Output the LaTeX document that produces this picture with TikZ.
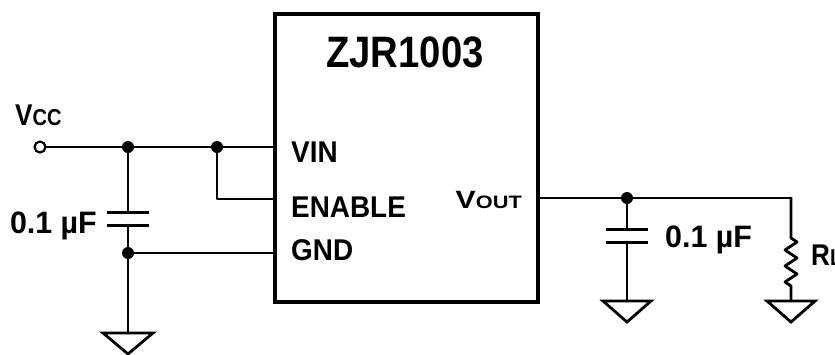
\documentclass[tikz,border=0pt]{standalone}
\usepackage{fontspec}
\setmainfont{Liberation Sans}[FakeStretch=0.87]
\newfontfamily\pinfont{Liberation Sans}[FakeStretch=0.93]
\newfontfamily\valfont{Liberation Sans}[FakeStretch=0.98]
\begin{document}
\begin{tikzpicture}[x=1pt,y=-1pt,
  wire/.style={line width=2.8pt,line cap=round,line join=round},
  lbl/.style={inner sep=0pt,font=\bfseries},
  dot/.style={circle,fill=black,inner sep=0pt,minimum size=12pt},
  gndsym/.style={line width=2.8pt,line join=miter}]
\useasboundingbox (0,0) rectangle (835,354);
% IC box
\draw[line width=4pt] (275,14) rectangle (538,302);
\node[lbl,anchor=base,font=\bfseries\fontsize{44}{44}\selectfont] (title) at (405,67) {ZJR1003};
\node[lbl,anchor=base west,font=\pinfont\bfseries\fontsize{30}{30}\selectfont] (vin) at (291,162) {VIN};
\node[lbl,anchor=base west,font=\pinfont\bfseries\fontsize{30}{30}\selectfont] (en) at (291,217) {ENABLE};
\node[lbl,anchor=base west,font=\pinfont\bfseries\fontsize{30}{30}\selectfont] (gndl) at (291,260) {GND};
\node[lbl,anchor=base east] (vout) at (522,208) {\scalebox{1.39}[1]{\fontsize{25}{25}\selectfont V\fontsize{18}{18}\selectfont OUT}};
% coordinates
\coordinate (pVin) at (275,147);
\coordinate (pEn) at (275,199);
\coordinate (pGnd) at (275,253);
\coordinate (pOut) at (538,198);
\node[circle,draw,line width=2.2pt,fill=white,inner sep=0pt,minimum size=11pt] (vcc) at (40,147) {};
\node[lbl,anchor=base west] (vcclbl) at (15,125) {\fontsize{30}{30}\selectfont V\fontsize{23}{23}\selectfont CC};
\node[dot] (j1) at (128,147) {};
\node[dot] (j2) at (217,147) {};
\node[dot] (j3) at (128,253) {};
\coordinate (enC) at (217,199);
% input wiring
\draw[wire] (vcc.east) -- (j1.center) -- (j2.center) -- (pVin);
\draw[wire] (j2.center) -- (enC) -- (pEn);
\draw[wire] (j3.center) -- (pGnd);
% left capacitor
\coordinate (c1a) at (128,212);
\coordinate (c1b) at (128,225);
\draw[wire] (j1.center) -- (c1a);
\draw[wire] (c1b) -- (j3.center);
\draw[line width=3pt] (107,212) -- (149,212);
\draw[line width=3pt] (107,225) -- (149,225);
\node[lbl,anchor=base east,font=\valfont\bfseries\fontsize{31}{31}\selectfont] (c1lbl) at (97,233) {0.1 µF};
% left ground
\coordinate (g1) at (128,333);
\draw[wire] (j3.center) -- (g1);
\draw[gndsym] (103,333) -- (153,333) -- (128,354) -- cycle;
% output wiring
\node[dot] (j4) at (627,198) {};
\coordinate (rTop) at (791,198);
\draw[wire] (pOut) -- (j4.center) -- (rTop);
% right capacitor
\coordinate (c2a) at (627,229);
\coordinate (c2b) at (627,242);
\draw[wire] (j4.center) -- (c2a);
\draw[line width=3pt] (606,229) -- (648,229);
\draw[line width=3pt] (606,242) -- (648,242);
\coordinate (g2) at (627,301);
\draw[wire] (c2b) -- (g2);
\draw[gndsym] (603,301) -- (651,301) -- (627,322) -- cycle;
\node[lbl,anchor=base west,font=\valfont\bfseries\fontsize{31}{31}\selectfont] (c2lbl) at (665,247) {0.1 µF};
% resistor
\coordinate (g3) at (791,301);
\draw[wire] (rTop) -- (791,238) -- (797,242) -- (785,250) -- (797,258) -- (785,266) -- (797,274) -- (785,282) -- (791,286) -- (g3);
\draw[gndsym] (767,301) -- (815,301) -- (791,322) -- cycle;
\node[lbl,anchor=base west] (rl) at (811,265) {\fontsize{30}{30}\selectfont R\fontsize{23}{23}\selectfont L};
\end{tikzpicture}
\end{document}
